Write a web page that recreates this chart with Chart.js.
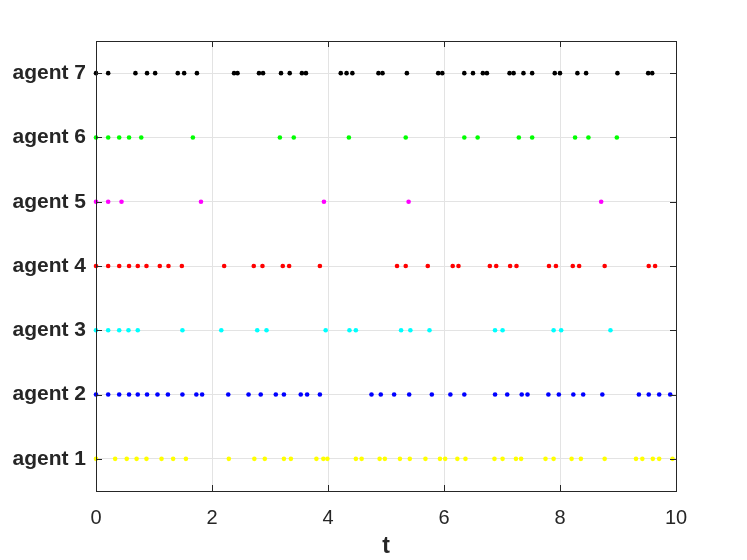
<!DOCTYPE html>
<html>
<head>
<meta charset="utf-8">
<script src="https://cdn.jsdelivr.net/npm/chart.js@4/dist/chart.umd.min.js"></script>
<style>
  html, body { margin: 0; padding: 0; background: #fff; }
  #chart { display: block; }
</style>
</head>
<body>
<canvas id="chart" width="747" height="560"></canvas>
<script>
// event times per agent
const agent1 = [0, 0.33, 0.53, 0.70, 0.87, 1.13, 1.33, 1.55, 2.29, 2.73, 2.91, 3.24, 3.36, 3.80, 3.92, 3.99, 4.48, 4.58, 4.89, 4.98,
    5.24, 5.41, 5.68, 5.93, 6.02, 6.23, 6.37, 6.87, 7.01, 7.24, 7.33, 7.75, 7.89, 8.20, 8.36, 8.77, 9.31, 9.42, 9.60, 9.71, 9.94];
const agent2 = [0, 0.21, 0.40, 0.57, 0.72, 0.88, 1.06, 1.24, 1.49, 1.73, 1.83, 2.28, 2.63, 2.84, 3.10, 3.24, 3.53, 3.64, 3.86, 4.75, 4.91,
    5.14, 5.40, 5.79, 6.11, 6.35, 6.88, 7.09, 7.34, 7.44, 7.80, 7.98, 8.23, 8.40, 8.73, 9.36, 9.53, 9.71, 9.90];
const agent3 = [0, 0.21, 0.40, 0.56, 0.72, 1.49, 2.16, 2.78, 2.94, 3.96, 4.37, 4.48, 5.26, 5.42, 5.75, 6.88, 7.01, 7.89, 8.02, 8.87];
const agent4 = [0, 0.21, 0.40, 0.57, 0.72, 0.87, 1.10, 1.25, 1.48, 2.21, 2.72, 2.87, 3.22, 3.33, 3.86,
    5.19, 5.34, 5.72, 6.15, 6.25, 6.79, 6.90, 7.14, 7.25, 7.81, 7.93, 8.22, 8.33, 8.77, 9.53, 9.64];
const agent5 = [0, 0.21, 0.44, 1.81, 3.93, 5.39, 8.71];
const agent6 = [0, 0.21, 0.40, 0.57, 0.78, 1.67, 3.17, 3.41, 4.36, 5.34, 6.35, 6.58, 7.29, 7.52, 8.26, 8.49, 8.98];
const agent7 = [0, 0.21, 0.68, 0.88, 1.02, 1.41, 1.52, 1.74, 2.38, 2.44, 2.81, 2.88, 3.19, 3.34, 3.55, 3.62, 4.22, 4.32, 4.42, 4.87, 4.94,
    5.36, 5.90, 5.97, 6.35, 6.50, 6.67, 6.74, 7.13, 7.20, 7.37, 7.52, 7.91, 8.00, 8.30, 8.45, 8.99, 9.52, 9.59];

const agentTimes = [agent1, agent2, agent3, agent4, agent5, agent6, agent7];
const agentLabels = ['agent 1', 'agent 2', 'agent 3', 'agent 4', 'agent 5', 'agent 6', 'agent 7'];
const agentColors = ['#ffff00', '#0000ff', '#00ffff', '#ff0000', '#ff00ff', '#00ff00', '#000000'];
const xTicks = [0, 2, 4, 6, 8, 10];

const datasets = agentTimes.map((times, i) => ({
    label: agentLabels[i],
    data: times.map(t => ({ x: t, y: i + 1 })),
    backgroundColor: agentColors[i],
    borderColor: agentColors[i],
    pointRadius: 2.3,
    pointBorderWidth: 0,
    clip: false
}));

// MATLAB style box with inward ticks
const boxPlugin = {
    id: 'box',
    afterDraw(chart) {
        const { ctx, chartArea: a, scales } = chart;
        ctx.save();
        ctx.strokeStyle = '#262626';
        ctx.lineWidth = 1;
        ctx.beginPath();
        scales.y.ticks.forEach(t => {
            const y = Math.round(scales.y.getPixelForValue(t.value)) + 0.5;
            ctx.moveTo(a.left, y); ctx.lineTo(a.left + 6, y);
            ctx.moveTo(a.right, y); ctx.lineTo(a.right - 6, y);
        });
        scales.x.ticks.forEach(t => {
            const x = Math.round(scales.x.getPixelForValue(t.value)) + 0.5;
            ctx.moveTo(x, a.bottom); ctx.lineTo(x, a.bottom - 6);
            ctx.moveTo(x, a.top); ctx.lineTo(x, a.top + 6);
        });
        ctx.stroke();
        ctx.strokeRect(Math.round(a.left) + 0.5, Math.round(a.top) + 0.5,
            Math.round(a.right - a.left), Math.round(a.bottom - a.top));
        ctx.restore();
    }
};

new Chart(document.getElementById('chart'), {
    type: 'scatter',
    data: { datasets },
    options: {
        responsive: false,
        animation: false,
        layout: { padding: { top: 41, right: 71, left: 0, bottom: 0 } },
        plugins: { legend: { display: false }, tooltip: { enabled: false } },
        scales: {
            x: {
                type: 'linear',
                min: 0,
                max: 10,
                afterBuildTicks: s => { s.ticks = xTicks.map(v => ({ value: v })); },
                afterFit: s => { s.height = 69; },
                grid: { color: '#e3e3e3', drawTicks: false },
                border: { display: false },
                ticks: {
                    color: '#262626',
                    padding: 15,
                    font: { family: 'Liberation Sans, Arial, sans-serif', size: 20 }
                },
                title: {
                    display: true,
                    text: 't',
                    color: '#262626',
                    padding: { top: 0, bottom: 0 },
                    font: { family: 'Liberation Sans, Arial, sans-serif', size: 23, weight: 'bold' }
                }
            },
            y: {
                type: 'linear',
                min: 0.5,
                max: 7.5,
                afterBuildTicks: s => { s.ticks = agentLabels.map((_, i) => ({ value: i + 1 })); },
                afterFit: s => { s.width = 96; },
                grid: { color: '#e3e3e3', drawTicks: false },
                border: { display: false },
                ticks: {
                    color: '#262626',
                    padding: 10,
                    callback: v => agentLabels[v - 1],
                    font: { family: 'Liberation Sans, Arial, sans-serif', size: 21, weight: 'bold' }
                }
            }
        }
    },
    plugins: [boxPlugin]
});
</script>
</body>
</html>
